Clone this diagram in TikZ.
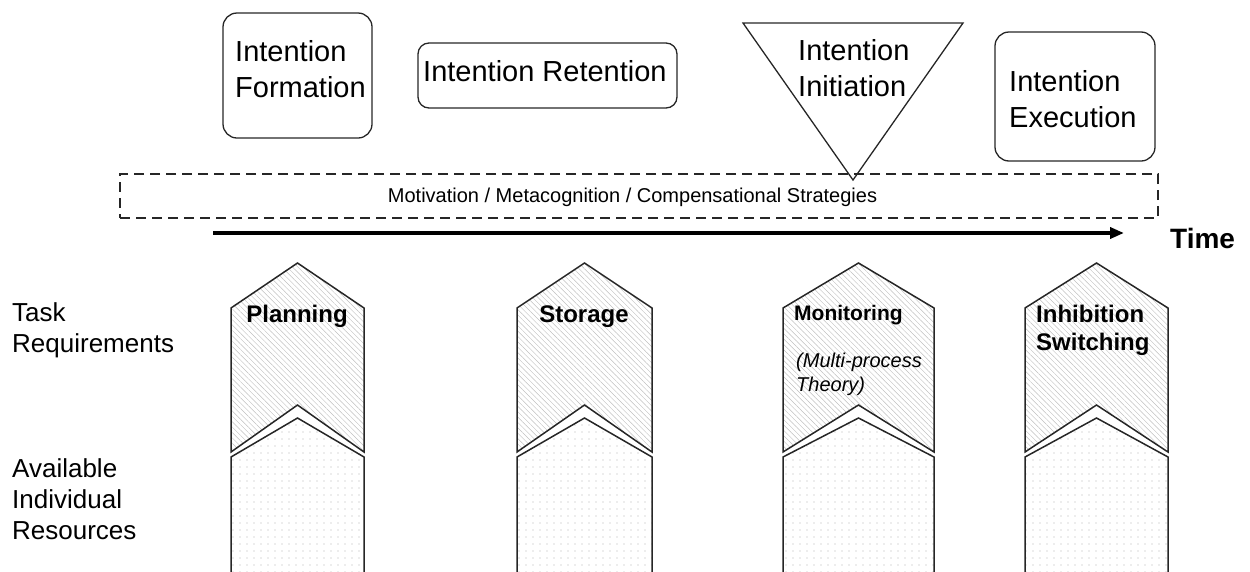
\documentclass[tikz,border=0pt]{standalone}
\usepackage{fontspec}
\setmainfont{Liberation Sans}
\usetikzlibrary{arrows.meta,patterns.meta}
% stacked lines whose baseline is the first line
\newcommand\twoln[2]{\vtop{\hbox{#1}\hbox{#2}}}
\newcommand\threeln[3]{\vtop{\hbox{#1}\hbox{#2}\hbox{#3}}}
\begin{document}
\begin{tikzpicture}[x=1pt,y=-1pt,
  stagebox/.style={draw=black!85,line width=1.3pt,rounded corners=14pt,inner sep=0pt},
  stagetext/.style={font=\fontsize{29}{36}\selectfont,inner sep=0pt,anchor=base west},
  sidetext/.style={font=\fontsize{26}{31}\selectfont,inner sep=0pt,anchor=base west},
  reqtext/.style={font=\bfseries\fontsize{24}{28}\selectfont,inner sep=0pt},
  reqshape/.style={draw=black!85,line width=1.5pt,line join=miter,
    pattern={Lines[angle=-45,distance=3.8pt,line width=0.45pt]},pattern color=black!25},
  resshape/.style={draw=black!85,line width=1.5pt,line join=miter,
    pattern={Dots[distance=6.5pt,radius=0.65pt]},pattern color=black!30},
  frame/.style={draw=black!85,line width=2.2pt,dash pattern=on 10pt off 6pt,inner sep=0pt}
]
\useasboundingbox (0,0) rectangle (1250,571);
\clip (0,0) rectangle (1250,571);

% ---- stages of the intention ----
\node[stagebox,minimum width=149,minimum height=125] (form) at (297.5,75.5) {};
\node[stagetext] (formtxt) at (235,61) {\twoln{Intention}{Formation}};

\node[stagebox,rounded corners=11pt,minimum width=259,minimum height=65] (ret) at (547.5,75.5) {};
\node[stagetext] (rettxt) at (423,81) {Intention Retention};

\coordinate (initA) at (743,23);
\coordinate (initB) at (963,23);
\coordinate (initC) at (853,180);

\node[stagebox,minimum width=160,minimum height=129] (exec) at (1075,96.5) {};
\node[stagetext] (exectxt) at (1009,91) {\twoln{Intention}{Execution}};

% ---- moderating factors ----
\node[frame,minimum width=1038,minimum height=44] (mod) at (639,196) {};
\node[font=\fontsize{20}{24}\selectfont,inner sep=0pt,anchor=base] (modtxt) at (632.5,202)
  {Motivation / Metacognition / Compensational Strategies};

\draw[draw=black!85,line width=1.3pt,line join=miter] (initA) -- (initB) -- (initC) -- cycle;
\node[stagetext] (inittxt) at (798,60) {\twoln{Intention}{Initiation}};

% ---- time axis ----
\coordinate (t0) at (213,233);
\coordinate (t1) at (1124,233);
\draw[line width=4pt,-{Triangle[length=14pt,width=11pt]}] (t0) -- (t1);
\node[font=\bfseries\fontsize{28}{32}\selectfont,inner sep=0pt,anchor=base west] (time) at (1170,248) {Time};

% ---- row labels ----
\node[sidetext] (tasklbl) at (12,321) {\twoln{Task}{Requirements}};
\node[sidetext] (reslbl) at (12,477) {\threeln{Available}{Individual}{Resources}};

% ---- requirement columns: demand (hatched) over resources (dotted) ----
\foreach \l/\r in {231/364,517/652,783/934,1025/1168} {
  \pgfmathsetmacro\c{(\l+\r)/2}
  \draw[reqshape] (\l,308) -- (\c,263) -- (\r,308) -- (\r,452) -- (\c,405) -- (\l,452) -- cycle;
  \draw[resshape] (\l,590) -- (\l,457) -- (\c,418) -- (\r,457) -- (\r,590);
}

\node[reqtext,anchor=base] (plan) at (297,322) {Planning};
\node[reqtext,anchor=base] (stor) at (584,322) {Storage};
\node[reqtext,font=\bfseries\fontsize{21}{25}\selectfont,anchor=base west] (moni) at (794,320) {Monitoring};
\node[font=\itshape\fontsize{20}{24}\selectfont,inner sep=0pt,anchor=base west] (mpt) at (796,367)
  {\twoln{(Multi-process}{Theory)}};
\node[reqtext,anchor=base west] (inhi) at (1036,322) {\twoln{Inhibition}{Switching}};
\end{tikzpicture}
\end{document}
